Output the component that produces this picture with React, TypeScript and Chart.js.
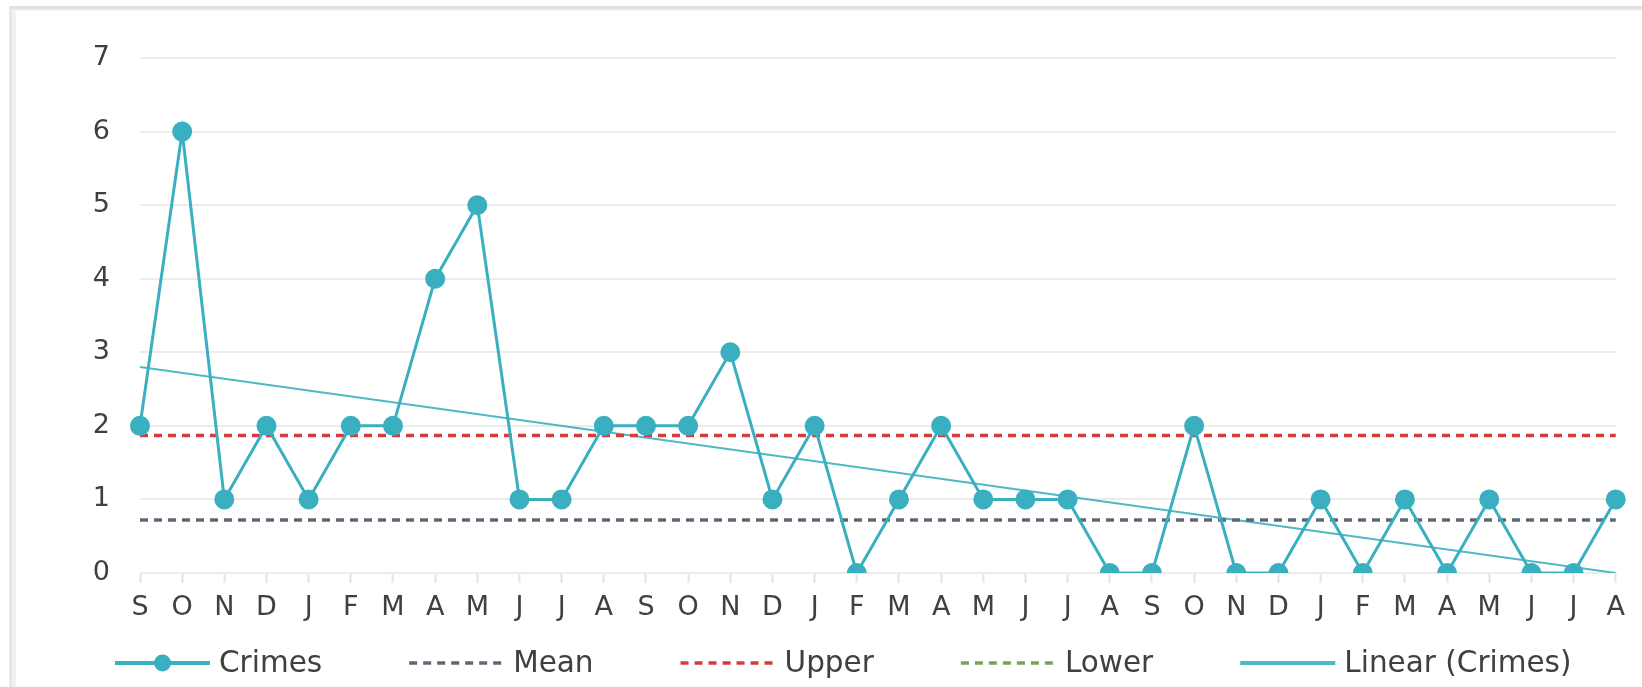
import React, { useEffect, useRef } from 'react';
import { Chart, registerables } from 'chart.js';

Chart.register(...registerables);

const MONTHS = ['S','O','N','D','J','F','M','A','M','J','J','A','S','O','N','D','J','F','M','A','M','J','J','A','S','O','N','D','J','F','M','A','M','J','J','A'];
const CRIMES = [2,6,1,2,1,2,2,4,5,1,1,2, 2,2,3,1,2,0,1,2,1,1,1,0, 0,2,0,0,1,0,1,0,1,0,0,1];
const MEAN_VALUE = 0.72;
const UPPER_VALUE = 1.87;
const LOWER_VALUE = -0.43;
const TREND_START = 2.8;
const TREND_END = 0.0;
const Y_MIN = 0;
const Y_MAX = 7;

const FONT = '"DejaVu Sans", Verdana, sans-serif';
const TEXT = '#404040';

const legendPlugin = {
  id: 'customLegend',
  afterDraw(chart: any) {
    const ctx = chart.ctx;
    ctx.save();
    ctx.font = `29.5px ${FONT}`;
    ctx.textBaseline = 'middle';
    ctx.textAlign = 'left';
    let x = 107;
    const y = 655;
    const lineLen = 95;
    chart.data.datasets.forEach((ds: any) => {
      ctx.save();
      ctx.strokeStyle = ds.borderColor;
      ctx.lineWidth = ds.legendLineWidth || ds.borderWidth;
      ctx.setLineDash(ds.borderDash || []);
      ctx.beginPath();
      ctx.moveTo(x, y);
      ctx.lineTo(x + lineLen, y);
      ctx.stroke();
      if (ds.pointRadius && ds.pointRadius > 0) {
        ctx.setLineDash([]);
        ctx.fillStyle = ds.pointBackgroundColor;
        ctx.beginPath();
        ctx.arc(x + lineLen / 2, y, ds.pointRadius, 0, Math.PI * 2);
        ctx.fill();
      }
      ctx.restore();
      ctx.fillStyle = TEXT;
      const tx = x + lineLen + 9;
      ctx.fillText(ds.label, tx, y + 1);
      x = tx + ctx.measureText(ds.label).width + 87;
    });
    ctx.restore();
  },
};

export default function App() {
  const ref = useRef<HTMLCanvasElement | null>(null);

  useEffect(() => {
    document.body.style.overflow = 'hidden';
    const last = MONTHS.length - 1;
    const chart = new Chart(ref.current as HTMLCanvasElement, {
      type: 'line',
      data: {
        labels: MONTHS,
        datasets: [
          {
            label: 'Crimes',
            data: CRIMES,
            borderColor: '#3aafc0',
            backgroundColor: '#3aafc0',
            pointBackgroundColor: '#3aafc0',
            pointBorderColor: '#3aafc0',
            borderWidth: 3,
            legendLineWidth: 4,
            pointRadius: 8.5,
            pointHoverRadius: 8.5,
            tension: 0,
          } as any,
          {
            label: 'Mean',
            data: MONTHS.map(() => MEAN_VALUE),
            borderColor: '#5d6876',
            borderWidth: 3.5,
            borderDash: [8, 6],
            pointRadius: 0,
          },
          {
            label: 'Upper',
            data: MONTHS.map(() => UPPER_VALUE),
            borderColor: '#d63c3c',
            borderWidth: 3.5,
            borderDash: [8, 6],
            pointRadius: 0,
          },
          {
            label: 'Lower',
            data: MONTHS.map(() => LOWER_VALUE),
            borderColor: '#7ea05c',
            borderWidth: 3.5,
            borderDash: [8, 6],
            pointRadius: 0,
          },
          {
            label: 'Linear (Crimes)',
            data: MONTHS.map((_, i) => (i === 0 ? TREND_START : i === last ? TREND_END : null)),
            borderColor: '#4fb8c7',
            borderWidth: 2,
            legendLineWidth: 4,
            pointRadius: 0,
            spanGaps: true,
          } as any,
        ],
      },
      options: {
        responsive: false,
        animation: false,
        layout: { padding: { top: 50, right: 16, bottom: 56, left: 0 } },
        plugins: {
          legend: { display: false },
          tooltip: { enabled: false },
        },
        scales: {
          x: {
            offset: false,
            grid: {
              display: true,
              drawOnChartArea: false,
              drawTicks: true,
              tickLength: 10,
              tickColor: '#e3e3e3',
              tickWidth: 2,
            },
            border: { display: false },
            ticks: {
              autoSkip: false,
              maxRotation: 0,
              padding: 9,
              color: TEXT,
              font: { family: FONT, size: 27 },
            },
            afterFit: (s: any) => { s.height = 50; },
          },
          y: {
            min: Y_MIN,
            max: Y_MAX,
            grid: { color: '#ececec', lineWidth: 2, drawTicks: false },
            border: { display: false },
            ticks: {
              stepSize: 1,
              padding: 30,
              color: TEXT,
              font: { family: FONT, size: 27 },
            },
            afterFit: (s: any) => { s.width = 132; },
          },
        },
      },
      plugins: [legendPlugin],
    });
    return () => chart.destroy();
  }, []);

  return (
    <div style={{ position: 'fixed', left: 0, top: 0, width: 1642, height: 687, overflow: 'hidden', background: '#fff' }}>
      <div style={{ position: 'absolute', left: 9, top: 6, width: 2000, height: 2000, borderTop: '3px solid #e0e0e0', borderLeft: '3px solid #e6e6e6' }}>
        <div style={{ width: '100%', height: '100%', borderTop: '2px solid #f1f1f1', borderLeft: '4px solid #f1f1f1' }} />
      </div>
      <canvas
        ref={ref}
        width={1626}
        height={671}
        style={{ position: 'absolute', left: 8, top: 8, width: 1626, height: 671 }}
      />
    </div>
  );
}
